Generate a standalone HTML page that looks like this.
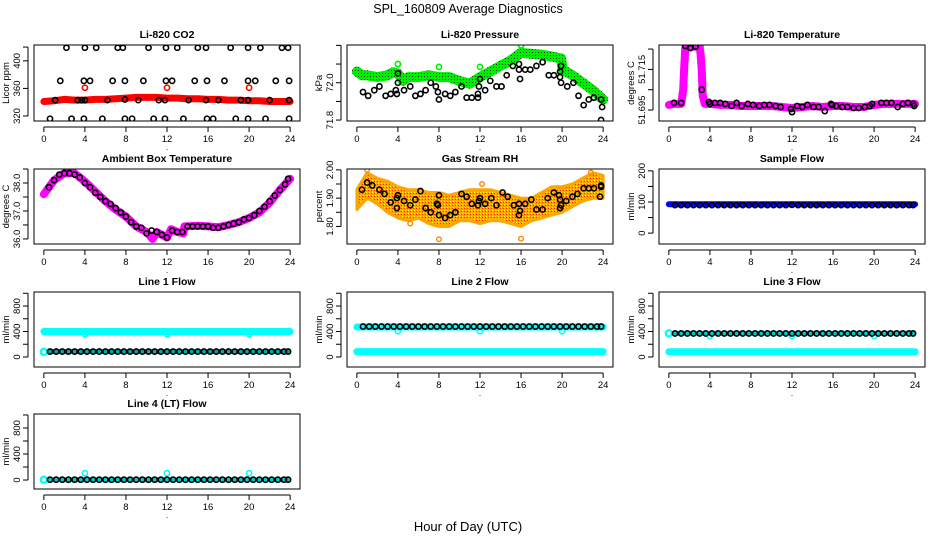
<!DOCTYPE html>
<html><head><meta charset="utf-8"><title>SPL_160809 Average Diagnostics</title>
<style>
html,body{margin:0;padding:0;background:#fff;}
svg{display:block;font-family:"Liberation Sans",Helvetica,Arial,sans-serif;}
</style></head>
<body>
<svg id="chart" width="936" height="540" viewBox="0 0 936 540" xmlns="http://www.w3.org/2000/svg">
<defs>
<pattern id="gdots" width="3" height="3" patternUnits="userSpaceOnUse"><rect width="3" height="3" fill="#00ee00"/><rect x="1" y="1" width="1" height="1" fill="#1a3a1a"/></pattern>
<pattern id="odots" width="3" height="3" patternUnits="userSpaceOnUse"><rect width="3" height="3" fill="#ffa500"/><rect x="0" y="0" width="1" height="1" fill="#ffff00"/><rect x="2" y="1" width="1" height="1" fill="#ff2200"/></pattern>
</defs>
<text x="468" y="13" font-size="12.5" text-anchor="middle">SPL_160809  Average Diagnostics</text>
<text x="468" y="531" font-size="13" text-anchor="middle">Hour of Day (UTC)</text>
</svg>
<script>
// ---------- DATA ----------
const xTicks = [0,4,8,12,16,20,24];
const xTickLabels = ["0","4","8","12","16","20","24"];

// Li-820 CO2
const co2BandX = [0,1,2,3,4,5,6,7,8,9,10,11,12,13,14,15,16,17,18,19,20,21,22,23,24];
const co2BandY = [341,342,344,343,343,344,344,345,346,347,347,347,346,346,345,345,344,344,343,343,342,342,341,341,341];
const co2RedOutX = [4,12,20];
const co2RedOutY = [361,361,361];
const co2BlackX = [2.2,4,5.1,7.2,7.7,10.2,11.9,13.0,15.0,15.8,18.2,19.9,21.1,23.2,23.8,
  1.6,3.9,4.5,6.7,7.9,9.7,11.9,12.5,14.7,15.9,17.6,19.9,20.6,22.6,23.9,
  1.1,3.3,3.7,4.0,6.2,7.9,9.2,11.2,11.8,14.1,15.8,17.0,19.2,19.9,22.0,23.9,
  0.6,2.7,3.9,5.7,7.9,8.6,10.7,11.8,13.6,15.9,16.5,18.7,19.9,21.6,23.9];
const co2BlackY = [419,419,419,419,419,419,419,419,419,419,419,419,419,419,419,
  371,371,371,371,371,371,371,371,371,371,371,371,371,371,371,
  343,343,343,343,343,344,343,343,343,343,343,343,343,343,343,343,
  316,316,316,316,316,316,316,316,316,316,316,316,316,316,316];

// Li-820 Pressure
const presBandX = [0,0.5,1,2,3,3.5,4,4.5,5,6,7,8,9,10,11,12,13,14,15,16,17,18,19,19.9,20.05,21,22,23,24];
const presBandY = [72.06,72.04,72.04,72.03,72.04,72.055,72.05,72.01,72.03,72.03,72.04,72.03,72.03,72.01,71.995,72.03,72.06,72.09,72.12,72.16,72.155,72.15,72.14,72.13,72.07,72.04,72.0,71.96,71.91];
const presGreenOutX = [4,8,12,16];
const presGreenOutY = [72.1,72.085,72.085,72.2];
const presBlackX = [0.6,1.1,1.7,2.2,2.8,3.3,3.8,3.9,4.0,4.0,4.6,5.2,5.7,6.2,6.7,7.2,7.7,7.9,8.0,8.6,9.1,9.6,10.2,10.7,11.2,11.8,11.8,11.9,12.0,12.5,13.0,13.6,14.1,14.6,15.2,15.8,15.8,15.9,16.4,16.9,17.5,18.1,18.7,19.2,19.8,19.8,19.9,19.9,20.5,21.1,21.6,22.1,22.6,23.1,23.8,23.9,23.8];
const presBlackY = [71.95,71.93,71.96,71.98,71.93,71.94,71.96,71.94,72.0,72.05,71.96,71.98,71.93,71.94,71.96,72.0,71.98,71.95,71.91,71.94,71.93,71.95,71.98,71.92,71.92,71.92,71.94,71.98,72.02,71.96,72.01,71.98,71.98,72.04,72.09,72.07,72.1,72.02,72.07,72.07,72.09,72.11,72.04,72.04,72.03,72.06,72.0,72.09,71.98,72.0,71.93,71.88,71.91,71.92,71.91,71.87,71.8];

// Li-820 Temperature
const tempBandX = [0,0.5,1,1.2,1.4,1.5,1.6,2,2.5,3,3.1,3.2,3.3,3.5,4,5,6,7,8,9,10,11,12,13,14,15,16,17,18,19,20,21,22,23,24];
const tempBandY = [51.6975,51.698,51.698,51.698,51.705,51.716,51.7255,51.7265,51.7262,51.7265,51.722,51.715,51.702,51.698,51.698,51.6975,51.6975,51.697,51.697,51.697,51.697,51.6965,51.696,51.6965,51.697,51.6965,51.697,51.697,51.6965,51.6965,51.6975,51.698,51.698,51.698,51.698];
const tempBlackX = [0.5,1.2,1.6,2.1,2.6,3.2,3.9,4.0,4.5,5.0,5.5,6.1,6.6,7.1,7.7,8.2,8.8,9.3,9.8,10.4,10.9,11.9,12.0,12.5,13.0,13.5,14.1,14.6,15.2,15.8,15.9,16.3,16.9,17.4,18.0,18.5,19.1,19.6,19.8,20.7,21.2,21.7,22.3,22.8,23.3,23.8,23.9];
const tempBlackY = [51.6985,51.6985,51.7265,51.7255,51.7262,51.705,51.699,51.698,51.6985,51.6985,51.698,51.697,51.6985,51.697,51.698,51.6975,51.697,51.6975,51.6975,51.697,51.6965,51.6955,51.694,51.697,51.6965,51.6975,51.6965,51.6965,51.6945,51.698,51.6975,51.697,51.6965,51.6965,51.696,51.696,51.6965,51.697,51.698,51.6985,51.6985,51.6985,51.6965,51.698,51.6985,51.698,51.697];

// Ambient Box Temperature
const ambBandX = [0,1,2,3,4,5,6,7,8,9,10,10.6,11,12,12.4,13,13.6,13.7,14,15,16,17,18,19,20,21,22,23,24];
const ambBandY = [37.6,38.1,38.35,38.35,38.05,37.7,37.35,37.05,36.8,36.45,36.25,36.0,36.25,36.05,36.35,36.25,36.2,36.45,36.45,36.47,36.45,36.42,36.5,36.6,36.75,36.95,37.3,37.75,38.15];
const ambBlackX = [0.5,1,1.5,2,2.5,3,3.5,4,4.5,5,5.5,6,6.5,7,7.5,8,8.5,9,9.5,10,10.5,11,11.5,12,12.5,13,13.5,14,14.5,15,15.5,16,16.5,17,17.5,18,18.5,19,19.5,20,20.5,21,21.5,22,22.5,23,23.5,23.8];
const ambBlackY = [37.85,38.1,38.3,38.35,38.35,38.3,38.2,38.0,37.85,37.65,37.5,37.35,37.25,37.1,36.95,36.8,36.6,36.45,36.4,36.2,36.3,36.25,36.15,36.05,36.3,36.25,36.25,36.45,36.45,36.45,36.45,36.45,36.4,36.4,36.45,36.5,36.55,36.6,36.7,36.75,36.85,37.0,37.15,37.35,37.55,37.75,37.95,38.15];

// Gas Stream RH
const rhBandX = [0,1,2,3,4,5,6,7,8,9,10,11,12,13,14,15,16,17,18,19,20,21,22,23,24];
const rhBandLow = [1.86,1.90,1.88,1.85,1.83,1.82,1.83,1.81,1.80,1.80,1.82,1.82,1.81,1.82,1.82,1.81,1.80,1.82,1.83,1.84,1.85,1.87,1.89,1.90,1.90];
const rhBandHigh = [1.93,1.99,1.97,1.96,1.94,1.93,1.93,1.92,1.92,1.91,1.92,1.93,1.93,1.93,1.92,1.91,1.90,1.90,1.92,1.94,1.94,1.95,1.97,1.99,1.98];
const rhOrangeOutX = [8,16,12.2,5.2,1,22.8];
const rhOrangeOutY = [1.755,1.757,1.95,1.81,2.0,1.99];
const rhBlackX = [0.5,1,1.5,2.2,2.7,3.3,3.9,3.9,4.0,4.6,5.2,5.7,6.2,6.7,7.2,7.8,7.9,8,8,8.6,9.1,9.6,10.2,10.7,11.2,11.8,11.9,12,12.5,13.1,13.6,14.2,14.7,15.3,15.8,15.9,15.8,16.4,17,17.5,18.1,18.6,19.2,19.7,19.8,19.9,19.8,20.4,21,21.5,22.1,22.6,23.1,23.8,23.8,23.7];
const rhBlackY = [1.93,1.955,1.945,1.93,1.915,1.885,1.9,1.865,1.91,1.89,1.875,1.895,1.925,1.865,1.85,1.88,1.875,1.84,1.91,1.83,1.84,1.85,1.915,1.905,1.88,1.875,1.89,1.9,1.88,1.9,1.875,1.92,1.905,1.875,1.88,1.855,1.84,1.88,1.895,1.86,1.86,1.9,1.92,1.91,1.895,1.875,1.865,1.89,1.905,1.915,1.935,1.935,1.935,1.945,1.94,1.905];

// Flows
const flowX = [0.6,1.2,1.8,2.4,3.0,3.6,4.2,4.8,5.4,6.0,6.6,7.2,7.8,8.4,9.0,9.6,10.2,10.8,11.4,12.0,12.6,13.2,13.8,14.4,15.0,15.6,16.2,16.8,17.4,18.0,18.6,19.2,19.8,20.4,21.0,21.6,22.2,22.8,23.4,23.8];
const flowBandX = [0,24];
const flowOutX = [4,12,20];
const sampleBlueY = [93,93];
const sampleBlackY = [90,90,90,90,90,90,90,90,90,90,90,90,90,90,90,90,90,90,90,91,90,90,90,90,90,90,90,90,90,90,90,90,90,90,90,90,90,90,90,90];
const line1CyanHighY = [400,400];
const line1CyanOutY = [355,355,355];
const line1BlackY = [85,85,85,85,85,85,85,85,85,85,85,85,85,85,85,85,85,85,85,85,85,85,85,85,85,85,85,85,85,85,85,85,85,85,85,85,85,85,85,85];
const line1CyanLowX = [0];
const line1CyanLowY = [80];
const line2CyanHighY = [470,470];
const line2CyanOutY = [405,405,405];
const line2BlackY = [478,478,478,478,478,478,478,478,478,478,478,478,478,478,478,478,478,478,478,478,478,478,478,478,478,478,478,478,478,478,478,478,478,478,478,478,478,478,478,478];
const line2CyanLowY = [85,85];
const line3CyanHighX = [0];
const line3CyanHighY = [370];
const line3CyanOutY = [330,330,330];
const line3BlackY = [370,370,370,370,370,370,370,370,370,370,370,370,370,370,370,370,370,370,370,370,370,370,370,370,370,370,370,370,370,370,370,370,370,370,370,370,370,370,370,370];
const line3CyanLowY = [82,82];
const line4CyanX = [0];
const line4CyanY = [5];
const line4CyanOutY = [105,105,105];
const line4BlackY = [5,5,5,5,5,5,5,5,5,5,5,5,5,5,5,5,5,5,5,5,5,5,5,5,5,5,5,5,5,5,5,5,5,5,5,5,5,5,5,5];

// ---------- DRAWING ----------
const NS = "http://www.w3.org/2000/svg";
const svg = document.getElementById('chart');
const COLS = [34,347,659], PW = 266;
const ROWS = [[45,121],[169,244],[292,367],[414,489]];

function mk(tag, attrs, parent, name) {
  const el = document.createElementNS(NS, tag);
  for (const k in attrs) el.setAttribute(k, attrs[k]);
  
  
  (parent || svg).appendChild(el);
  return el;
}

function makePanel(id, col, row, title, ylab, ymin, ymax, yt, ytl) {
  const left = COLS[col], right = left + PW, top = ROWS[row][0], bottom = ROWS[row][1];
  const g = mk('g', {}, svg, id + '-panel');
  const P = {g, left, right, top, bottom, id};
  P.x = h => left + (h + 0.96) / 25.92 * PW;
  P.y = v => top + (ymax - v) / (ymax - ymin) * (bottom - top);
  const cp = mk('clipPath', {id: id + '-clip'}, g, id + '-clip');
  mk('rect', {x: left, y: top, width: PW, height: bottom - top}, cp, id + '-clip-rect');
  P.plot = mk('g', {'clip-path': 'url(#' + id + '-clip)'}, g, id + '-plot-area');
  mk('rect', {x: left, y: top, width: PW, height: bottom - top, fill: 'none', stroke: '#000', 'stroke-width': 1}, g, id + '-frame');
  mk('text', {x: (left + right) / 2, y: top - 7, 'font-size': 10.5, 'font-weight': 'bold', 'text-anchor': 'middle'}, g, id + '-title').textContent = title;
  const xa = mk('g', {}, g, id + '-x-axis');
  mk('line', {x1: P.x(0), x2: P.x(24), y1: bottom + 6, y2: bottom + 6, stroke: '#000'}, xa, id + '-x-axis-line');
  xTicks.forEach((t, i) => {
    mk('line', {x1: P.x(t), x2: P.x(t), y1: bottom + 6, y2: bottom + 11, stroke: '#000'}, xa, id + '-x-tick');
    mk('text', {x: P.x(t), y: bottom + 21, 'font-size': 9.5, 'text-anchor': 'middle'}, xa, id + '-x-tick-label').textContent = xTickLabels[i];
  });
  mk('text', {x: (left + right) / 2, y: bottom + 29, 'font-size': 8, 'text-anchor': 'middle'}, xa, id + '-x-label').textContent = '.';
  const ya = mk('g', {}, g, id + '-y-axis');
  mk('line', {x1: left - 6, x2: left - 6, y1: P.y(yt[0]), y2: P.y(yt[yt.length - 1]), stroke: '#000'}, ya, id + '-y-axis-line');
  yt.forEach((t, i) => {
    mk('line', {x1: left - 11, x2: left - 6, y1: P.y(t), y2: P.y(t), stroke: '#000'}, ya, id + '-y-tick');
    if (ytl[i]) {
      const tx = mk('text', {x: left - 14, y: P.y(t), 'font-size': 9.5, 'text-anchor': 'middle', transform: 'rotate(-90 ' + (left - 14) + ' ' + P.y(t) + ')'}, ya, id + '-y-tick-label');
      tx.textContent = ytl[i];
    }
  });
  const ym = (top + bottom) / 2;
  mk('text', {x: left - 25, y: ym, 'font-size': 9.5, 'text-anchor': 'middle', transform: 'rotate(-90 ' + (left - 25) + ' ' + ym + ')'}, ya, id + '-y-axis-title').textContent = ylab;
  return P;
}

function band(P, xs, ys, color, w, name) {
  const pts = xs.map((h, i) => P.x(h).toFixed(1) + ',' + P.y(ys[i]).toFixed(1)).join(' ');
  mk('polyline', {points: pts, fill: 'none', stroke: color, 'stroke-width': w, 'stroke-linejoin': 'round', 'stroke-linecap': 'round'}, P.plot, name);
}
function area(P, xs, lo, hi, fill, name) {
  const a = xs.map((h, i) => P.x(h).toFixed(1) + ',' + P.y(hi[i]).toFixed(1));
  const b = xs.map((h, i) => P.x(h).toFixed(1) + ',' + P.y(lo[i]).toFixed(1)).reverse();
  mk('polygon', {points: a.concat(b).join(' '), fill: fill, stroke: '#ffa500', 'stroke-width': 3, 'stroke-linejoin': 'round'}, P.plot, name);
}
function pts(P, xs, ys, color, name, r, sw) {
  xs.forEach((h, i) => {
    if (ys[i] === undefined) return;
    mk('circle', {cx: P.x(h), cy: P.y(ys[i]), r: r || 2.6, fill: 'none', stroke: color, 'stroke-width': sw || 1.6}, P.plot, name);
  });
}

let P = makePanel('co2', 0, 0, 'Li-820 CO2', 'Licor ppm', 312.7, 423, [320,360,400,420], ['320','360','400','']);
band(P, co2BandX, co2BandY, '#ff0000', 7, 'co2-red-band');
pts(P, co2RedOutX, co2RedOutY, '#ff0000', 'co2-red-point');
pts(P, co2BlackX, co2BlackY, '#000', 'co2-black-point');

P = makePanel('pressure', 1, 0, 'Li-820 Pressure', 'kPa', 71.795, 72.202, [71.8,71.9,72.0,72.1,72.2], ['71.8','','72.0','','']);
band(P, presBandX, presBandY, 'url(#gdots)', 10, 'pressure-green-band');
pts(P, presGreenOutX, presGreenOutY, '#00ee00', 'pressure-green-point');
pts(P, presBlackX, presBlackY, '#000', 'pressure-black-point');

P = makePanel('temperature', 2, 0, 'Li-820 Temperature', 'degrees C', 51.6896, 51.727, [51.695,51.705,51.715,51.725], ['51.695','','51.715','']);
band(P, tempBandX, tempBandY, '#ff00ff', 8, 'temperature-magenta-band');
pts(P, tempBlackX, tempBlackY, '#000', 'temperature-black-point');

P = makePanel('ambient', 0, 1, 'Ambient Box Temperature', 'degrees C', 35.82, 38.5, [36.0,36.5,37.0,37.5,38.0,38.5], ['36.0','','37.0','','38.0','']);
band(P, ambBandX, ambBandY, '#ff00ff', 8, 'ambient-magenta-band');
pts(P, ambBlackX, ambBlackY, '#000', 'ambient-black-point');

P = makePanel('rh', 1, 1, 'Gas Stream RH', 'percent', 1.738, 2.003, [1.80,1.85,1.90,1.95,2.00], ['1.80','','1.90','','2.00']);
area(P, rhBandX, rhBandLow, rhBandHigh, 'url(#odots)', 'rh-orange-band');
pts(P, rhOrangeOutX, rhOrangeOutY, '#ff8800', 'rh-orange-point', 2.3, 1.4);
pts(P, rhBlackX, rhBlackY, '#000', 'rh-black-point');

P = makePanel('sample-flow', 2, 1, 'Sample Flow', 'ml/min', -35, 206, [0,50,100,150,200], ['0','','100','','200']);
band(P, flowBandX, sampleBlueY, '#0000ff', 6, 'sample-blue-band');
pts(P, flowX, sampleBlackY, '#000', 'sample-black-point');

const FT = [0,200,400,600,800,1000], FL = ['0','','400','','800',''];
P = makePanel('line1', 0, 2, 'Line 1 Flow', 'ml/min', -157, 1020, FT, FL);
band(P, flowBandX, line1CyanHighY, '#00ffff', 7, 'line1-cyan-band');
pts(P, flowOutX, line1CyanOutY, '#00ffff', 'line1-cyan-point');
pts(P, line1CyanLowX, line1CyanLowY, '#00ffff', 'line1-cyan-low-point', 3, 2.5);
band(P, [flowX[0], flowX[flowX.length - 1]], [line1BlackY[0], line1BlackY[line1BlackY.length - 1]], '#00aaaa', 5, 'line1-black-band');
pts(P, flowX, line1BlackY, '#000', 'line1-black-point');

P = makePanel('line2', 1, 2, 'Line 2 Flow', 'ml/min', -157, 1020, FT, FL);
band(P, flowBandX, line2CyanHighY, '#00ffff', 7, 'line2-cyan-band');
pts(P, flowOutX, line2CyanOutY, '#00ffff', 'line2-cyan-point');
band(P, flowBandX, line2CyanLowY, '#00ffff', 7, 'line2-cyan-low-band');
pts(P, flowX, line2BlackY, '#000', 'line2-black-point');

P = makePanel('line3', 2, 2, 'Line 3 Flow', 'ml/min', -157, 1020, FT, FL);
pts(P, line3CyanHighX, line3CyanHighY, '#00ffff', 'line3-cyan-point', 3, 2.5);
pts(P, flowOutX, line3CyanOutY, '#00ffff', 'line3-cyan-out-point');
band(P, flowBandX, line3CyanLowY, '#00ffff', 7, 'line3-cyan-low-band');
band(P, [flowX[0], flowX[flowX.length - 1]], [line3BlackY[0], line3BlackY[line3BlackY.length - 1]], '#00cccc', 5, 'line3-cyan-band');
pts(P, flowX, line3BlackY, '#000', 'line3-black-point');

P = makePanel('line4', 0, 3, 'Line 4 (LT) Flow', 'ml/min', -138, 1015, FT, FL);
pts(P, line4CyanX, line4CyanY, '#00ffff', 'line4-cyan-point', 3, 2.5);
pts(P, flowOutX, line4CyanOutY, '#00ffff', 'line4-cyan-out-point');
band(P, [flowX[0], flowX[flowX.length - 1]], [line4BlackY[0], line4BlackY[line4BlackY.length - 1]], '#00cccc', 5, 'line4-cyan-band');
pts(P, flowX, line4BlackY, '#000', 'line4-black-point');
</script>
</body></html>
